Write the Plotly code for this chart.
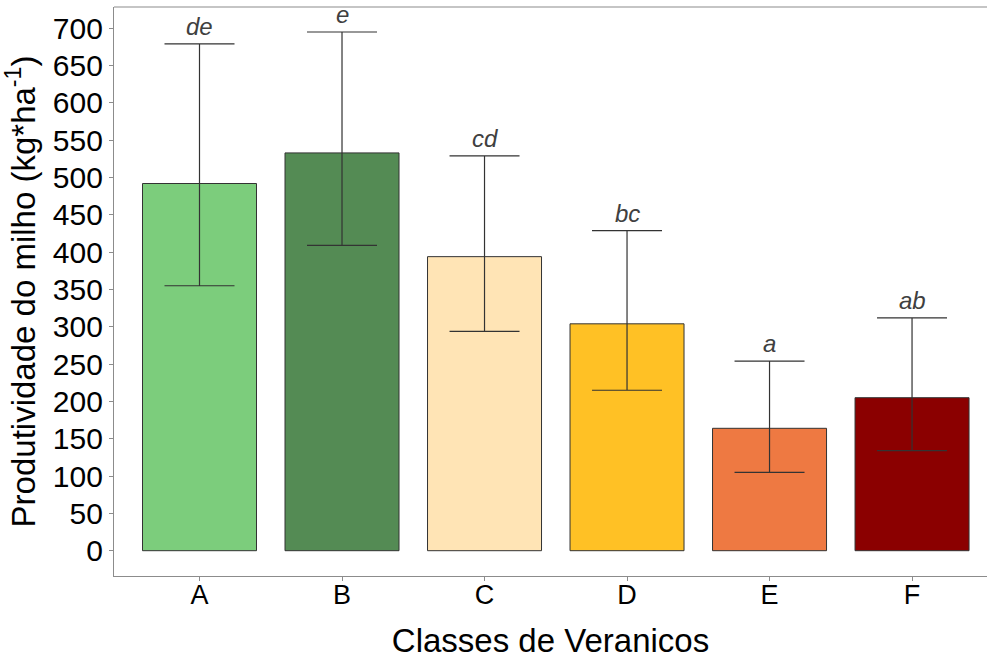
import plotly.graph_objects as go

# Data
classes = ["A", "B", "C", "D", "E", "F"]
means = [492, 533, 394, 304, 164, 205]
upper = [679, 695, 529, 429, 254, 312]
lower = [355, 409, 294, 215, 105, 134]
letters = ["de", "e", "cd", "bc", "a", "ab"]
colors = ["#7CCD7C", "#548B54", "#FFE4B5", "#FFC125", "#EE7942", "#8B0000"]
y_ticks = list(range(0, 701, 50))

err_plus = [u - m for u, m in zip(upper, means)]
err_minus = [m - l for m, l in zip(means, lower)]

FONT = "Liberation Sans, Arial, sans-serif"

fig = go.Figure()
fig.add_trace(go.Bar(
    x=classes, y=means,
    marker=dict(color=colors, line=dict(color="#333333", width=1)),
    width=0.8,
    error_y=dict(type="data", symmetric=False, array=err_plus, arrayminus=err_minus,
                 color="#333333", thickness=1.2, width=35),
    showlegend=False,
))

for c, u, t in zip(classes, upper, letters):
    fig.add_annotation(x=c, y=u, text=f"<i>{t}</i>", showarrow=False,
                       yanchor="bottom", yshift=2,
                       font=dict(family=FONT, size=24, color="#404040"))

fig.add_shape(type="line", xref="paper", yref="paper", x0=0, x1=1, y0=1, y1=1,
              line=dict(color="#8c8c8c", width=1.2))

fig.update_layout(
    width=987, height=659,
    margin=dict(l=114, r=0, t=7, b=83, autoexpand=False),
    plot_bgcolor="white", paper_bgcolor="white",
    font=dict(family=FONT, color="black"),
    xaxis=dict(
        range=[-0.6, 5.526], automargin=False,
        showline=True, linecolor="#8c8c8c", linewidth=1.2,
        ticks="outside", ticklen=4, tickcolor="#8c8c8c",
        tickfont=dict(size=27, color="black"),
        ticklabelstandoff=-10,
        showgrid=False, zeroline=False,
        title=dict(text="Classes de Veranicos", font=dict(size=33, color="black"), standoff=22),
    ),
    yaxis=dict(
        range=[-33.9, 728.5], automargin=False,
        tickvals=y_ticks, ticktext=[str(v) for v in y_ticks],
        showline=True, linecolor="#8c8c8c", linewidth=1.2,
        ticks="outside", ticklen=4, tickcolor="#8c8c8c",
        tickfont=dict(size=30, color="black"),
        showgrid=False, zeroline=False,
        title=dict(text="Produtividade do milho (kg*ha<sup>-1</sup>)",
                   font=dict(size=33, color="black"), standoff=9),
    ),
)

fig.write_html("out.html", config={"displayModeBar": False},
               post_script="document.body.style.margin='0';document.body.style.overflow='hidden';")
